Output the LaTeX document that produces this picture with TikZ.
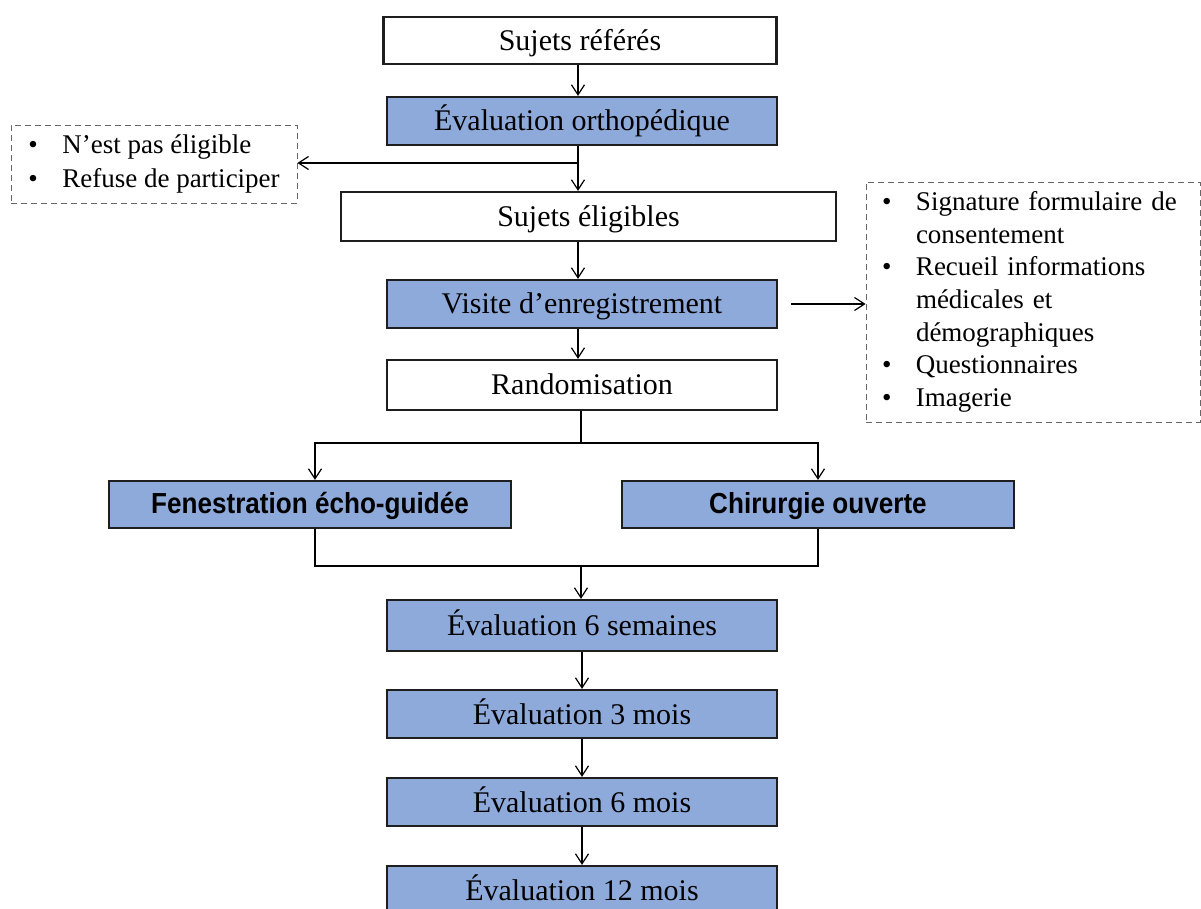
\documentclass[tikz,border=0pt]{standalone}
\usepackage{fontspec}
\setmainfont{Liberation Serif}
\newfontfamily\grasfont[FakeStretch=0.9]{Liberation Sans}
\usetikzlibrary{arrows.meta, positioning}
\definecolor{bleu}{RGB}{142, 170, 219}
\definecolor{trait}{RGB}{30, 30, 30}
\newcommand{\puce}[1]{\makebox[17pt][l]{\textbullet}#1}
\newcommand{\suite}[1]{\hspace*{17pt}#1}

\begin{document}
\begin{tikzpicture}[
    x=0.5pt, y=-0.5pt, >={Straight Barb[length=5pt, width=6.5pt]},
    etape/.style={rectangle, draw=trait, fill=#1, line width=1.1pt,
      minimum width=195pt, minimum height=24pt, inner sep=0pt,
      text height=11pt, text depth=1pt,
      font=\fontsize{15}{17}\selectfont},
    etape/.default=white,
    bras/.style={rectangle, draw=trait, fill=bleu, line width=1.1pt,
      minimum height=23.5pt, inner sep=0pt, text height=10.5pt, text depth=1pt,
      font=\grasfont\bfseries\fontsize{14.5}{16}\selectfont},
    note/.style={rectangle, draw=black!60, densely dashed, line width=0.4pt,
      inner xsep=8pt, inner ysep=2pt, align=left},
    arr/.style={->, line width=0.6pt, black}
  ]
  \path[use as bounding box, clip] (0,0) rectangle (1201,909);

  \node[etape, minimum width=196.5pt, minimum height=23.5pt] (ref) at (580, 40.5) {Sujets référés};
  \node[etape=bleu] (ortho) at (582, 121) {Évaluation orthopédique};
  \node[etape, minimum width=247.5pt, minimum height=24.5pt] (elig) at (588.5, 216.5) {Sujets éligibles};
  \node[etape=bleu] (visite) at (582, 304) {Visite d’enregistrement};
  \node[etape, minimum height=25pt] (rando) at (582, 385) {Randomisation};

  \node[note, minimum width=143pt, minimum height=39pt,
    font=\fontsize{13.5}{17}\selectfont] (exclu) at (154, 164)
    {\puce{N’est pas éligible}\\ \puce{Refuse de participer}};
  \node[note, minimum width=167pt, minimum height=120pt, text width=151pt,
    font=\fontsize{13.5}{16.3}\selectfont] (info) at (1033, 302)
    {\puce{Signature formulaire de}\\ \suite{consentement}\\
     \puce{Recueil informations}\\ \suite{médicales et}\\ \suite{démographiques}\\
     \puce{Questionnaires}\\ \puce{Imagerie}};

  \node[bras, minimum width=201pt] (fen) at (310, 504.5) {Fenestration écho-guidée};
  \node[bras, minimum width=196pt] (chir) at (818, 504.5) {Chirurgie ouverte};

  \node[etape=bleu, minimum height=25.5pt] (e6s) at (582, 625.5) {Évaluation 6 semaines};
  \node[etape=bleu] (e3m) at (582, 714) {Évaluation 3 mois};
  \node[etape=bleu] (e6m) at (582, 802) {Évaluation 6 mois};
  \node[etape=bleu] (e12m) at (582, 890) {Évaluation 12 mois};

  \coordinate (tri) at (578, 163);
  \coordinate (sep) at (581, 443);
  \coordinate (jonc) at (581, 566);

  \draw[arr] (ref.south -| tri) -- (ortho.north -| tri);
  \draw[line width=0.6pt] (ortho.south -| tri) -- (tri);
  \draw[arr] (tri) -- (exclu.east |- tri);
  \draw[arr] (tri) -- (elig.north -| tri);
  \draw[arr] (elig.south -| tri) -- (visite.north -| tri);
  \draw[arr, shorten <=6.5pt] (visite.east) -- (info.west |- visite.east);
  \draw[arr] (visite.south -| tri) -- (rando.north -| tri);
  \draw[line width=0.6pt] (rando.south -| sep) -- (sep);
  \draw[arr] (sep) -| ([xshift=2.5pt]fen.north);
  \draw[arr] (sep) -| (chir.north);
  \draw[line width=0.6pt] ([xshift=2.5pt]fen.south) |- (jonc) -| (chir.south);
  \draw[arr] (jonc) -- (e6s.north -| jonc);
  \draw[arr] (e6s) -- (e3m);
  \draw[arr] (e3m) -- (e6m);
  \draw[arr] (e6m) -- (e12m);
\end{tikzpicture}
\end{document}
